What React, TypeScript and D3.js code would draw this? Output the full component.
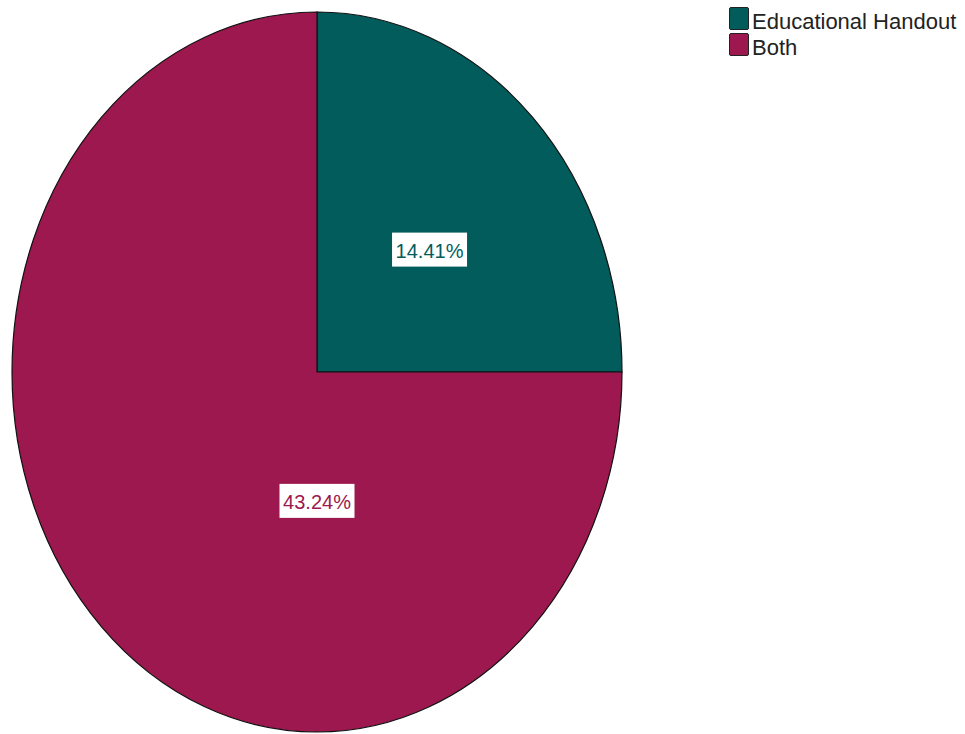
import React from "react";
import * as d3 from "d3";

const categories = ["Educational Handout", "Both"];
const values = [14.41, 43.24];
const labels = ["14.41%", "43.24%"];
const colors = ["#025c5c", "#9c184f"];

// layout (label anchor in fractions of the radii, relative to the centre)
const labelFrac: [number, number][] = [
  [0.369, -0.34],
  [0.0, 0.358],
];

const W = 965;
const H = 734;
const cx = 317;
const cy = 372;
const rx = 305;
const ry = 360;

export default function App() {
  const pie = d3
    .pie<number>()
    .sort(null)
    .value((d) => d)
    .startAngle(0)
    .endAngle(2 * Math.PI);
  const arcs = pie(values);
  const arc = d3.arc<d3.PieArcDatum<number>>().innerRadius(0).outerRadius(1);

  return (
    <svg
      width={W}
      height={H}
      style={{ position: "absolute", left: 0, top: 0, background: "#fff" }}
    >
      <g transform={`translate(${cx},${cy}) scale(${rx},${ry})`}>
        {arcs.map((a, i) => (
          <path
            key={i}
            d={arc(a) || ""}
            fill={colors[i]}
            stroke="#111"
            strokeWidth={1.2}
            vectorEffect="non-scaling-stroke"
          />
        ))}
      </g>
      {arcs.map((a, i) => {
        const x = cx + labelFrac[i][0] * rx;
        const y = cy + labelFrac[i][1] * ry;
        const bw = 75;
        const bh = 34;
        return (
          <g key={"l" + i}>
            <rect x={x - bw / 2} y={y - bh / 2} width={bw} height={bh} fill="#fff" />
            <text
              x={x}
              y={y + 8}
              textAnchor="middle"
              fontFamily="Liberation Sans, Arial, sans-serif"
              fontSize={20}
              fill={colors[i]}
            >
              {labels[i]}
            </text>
          </g>
        );
      })}
      {categories.map((c, i) => (
        <g key={"lg" + i} transform={`translate(729,${7 + i * 26})`}>
          <rect x={0.5} y={0.5} width={19} height={22} fill={colors[i]} stroke="#222" strokeWidth={1} rx={1.5} />
          <text
            x={23}
            y={22}
            fontFamily="Liberation Sans, Arial, sans-serif"
            fontSize={22}
            fill="#222"
          >
            {c}
          </text>
        </g>
      ))}
    </svg>
  );
}
